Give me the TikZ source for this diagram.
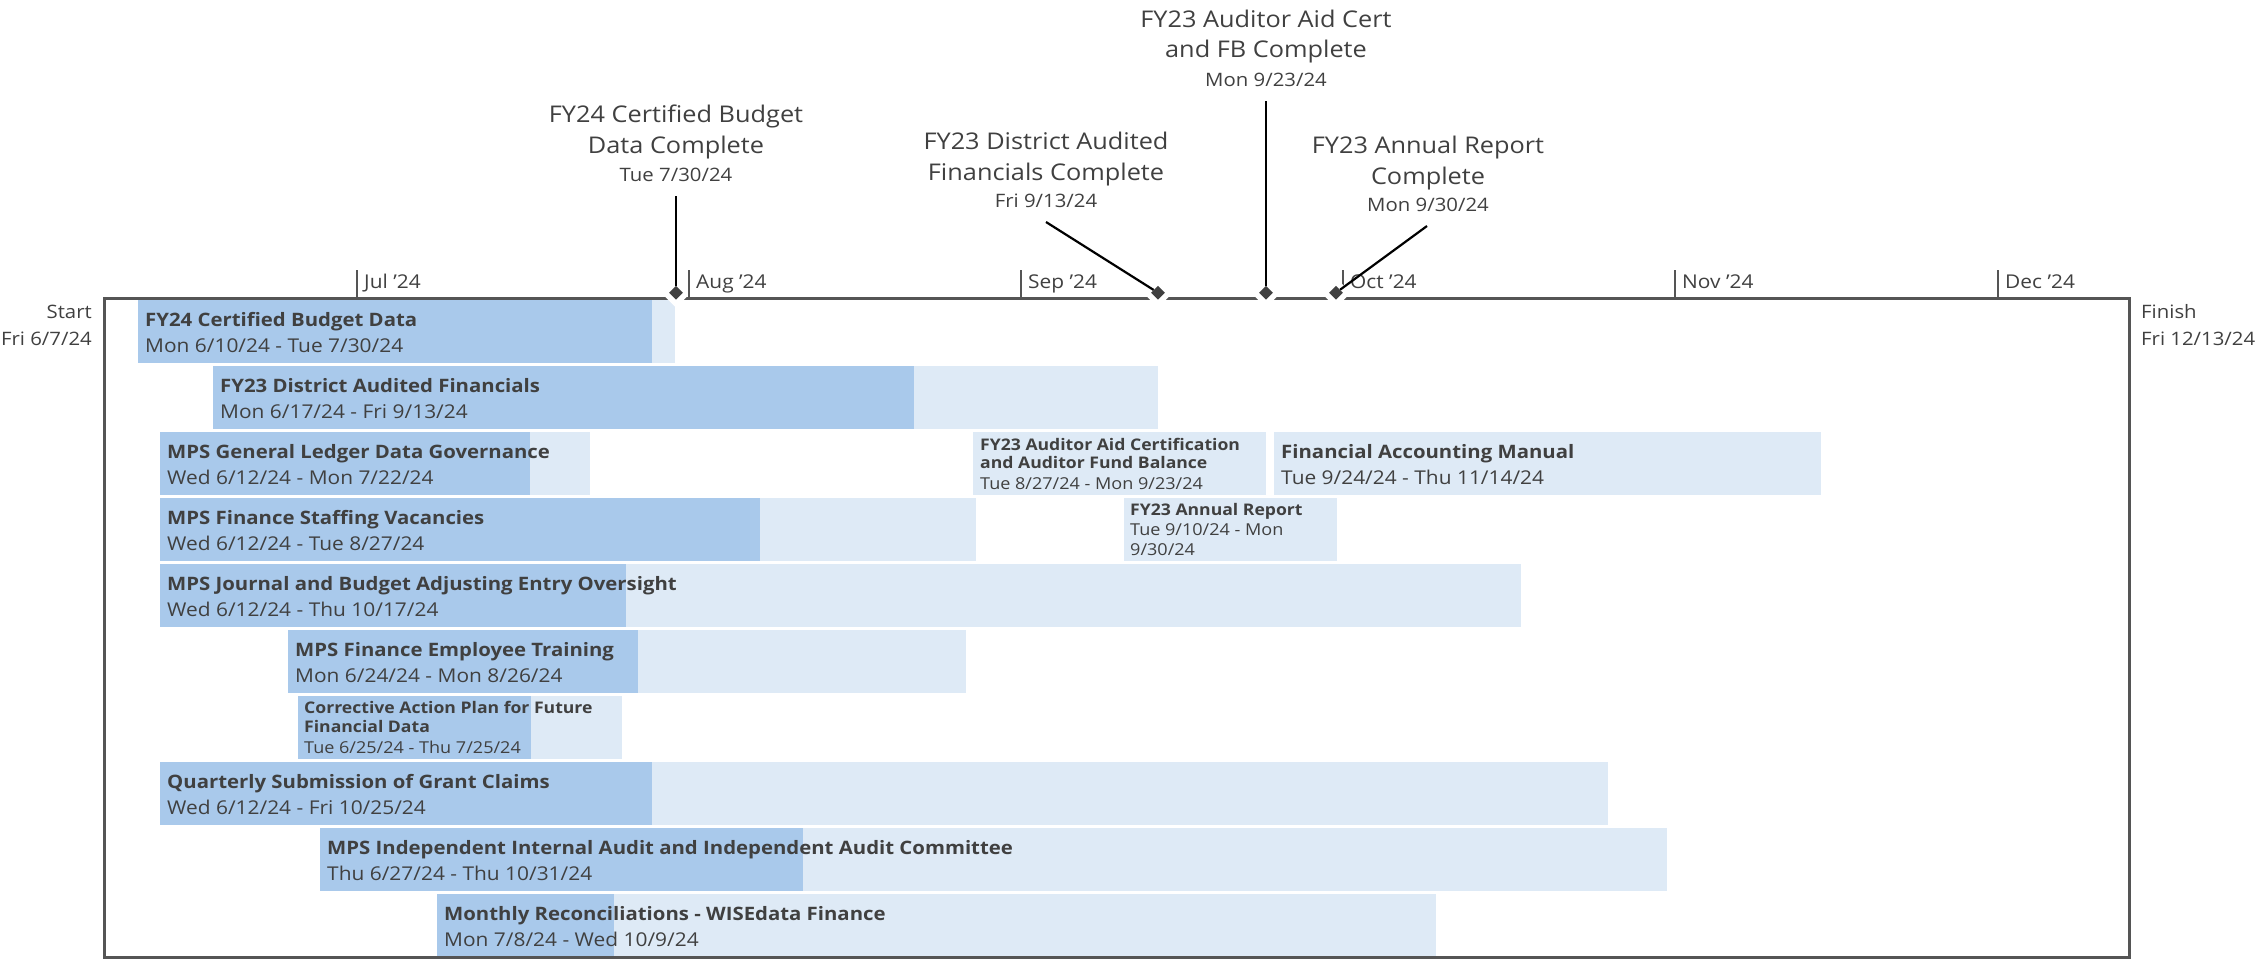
\documentclass[tikz,border=0pt]{standalone}
\usepackage{fontspec}
\setmainfont{Open Sans}[FakeStretch=1.1]
\usetikzlibrary{shapes.geometric}
\definecolor{bardark}{HTML}{A9C9EB}
\definecolor{barlight}{HTML}{DEEAF6}
\definecolor{txt}{HTML}{404040}
\definecolor{framec}{HTML}{555555}
\begin{document}
\begin{tikzpicture}[x=1pt,y=-1pt,
  tasktitle/.style={font=\fontsize{18.5}{22}\selectfont\bfseries, text=txt, inner sep=0pt, anchor=base west},
  taskdate/.style={font=\fontsize{19}{22}\selectfont, text=txt, inner sep=0pt, anchor=base west},
  smalltitle/.style={font=\fontsize{16}{18}\selectfont\bfseries, text=txt, inner sep=0pt, anchor=base west},
  smalldate/.style={font=\fontsize{16.4}{18}\selectfont, text=txt, inner sep=0pt, anchor=base west},
  mstitle/.style={font=\fontsize{23}{26}\selectfont, text=txt, inner sep=0pt, anchor=base},
  msdate/.style={font=\fontsize{18.5}{20}\selectfont, text=txt, inner sep=0pt, anchor=base},
  axislbl/.style={font=\fontsize{19}{20}\selectfont, text=txt, inner sep=0pt, anchor=base west},
  sidelbl/.style={font=\fontsize{18.5}{20}\selectfont, text=txt, inner sep=0pt},
  msdiamond/.style={diamond, fill=txt, inner sep=0pt, minimum width=14pt, minimum height=14pt},
  halo/.style={diamond, fill=white, inner sep=0pt, minimum width=30pt, minimum height=30pt},
  leader/.style={draw=black, line width=2.2pt},
  tickline/.style={draw=framec, line width=2.4pt},
  frameline/.style={draw=framec, line width=3pt}
]
\useasboundingbox (0,0) rectangle (2259,959);

% ---------- bars ----------
% row 0
\fill[barlight] (138,300) rectangle (675,363);
\fill[bardark]  (138,300) rectangle (652,363);
% row 1
\fill[barlight] (213,366) rectangle (1158,429);
\fill[bardark]  (213,366) rectangle (914,429);
% row 2
\fill[barlight] (160,432) rectangle (590,495);
\fill[bardark]  (160,432) rectangle (530,495);
\fill[barlight] (973,432) rectangle (1266,495);
\fill[barlight] (1274,432) rectangle (1821,495);
% row 3
\fill[barlight] (160,498) rectangle (976,561);
\fill[bardark]  (160,498) rectangle (760,561);
\fill[barlight] (1124,498) rectangle (1337,561);
% row 4
\fill[barlight] (160,564) rectangle (1521,627);
\fill[bardark]  (160,564) rectangle (626,627);
% row 5
\fill[barlight] (288,630) rectangle (966,693);
\fill[bardark]  (288,630) rectangle (638,693);
% row 6
\fill[barlight] (298,696) rectangle (622,759);
\fill[bardark]  (298,696) rectangle (531,759);
% row 7
\fill[barlight] (160,762) rectangle (1608,825);
\fill[bardark]  (160,762) rectangle (652,825);
% row 8
\fill[barlight] (320,828) rectangle (1667,891);
\fill[bardark]  (320,828) rectangle (803,891);
% row 9
\fill[barlight] (437,894) rectangle (1436,957);
\fill[bardark]  (437,894) rectangle (614,957);

% ---------- task texts ----------
\node[tasktitle] (t0) at (145,326.5) {FY24 Certified Budget Data};
\node[taskdate]  (d0) at (145,352.5) {Mon 6/10/24 - Tue 7/30/24};
\node[tasktitle] (t1) at (220,392.5) {FY23 District Audited Financials};
\node[taskdate]  (d1) at (220,418.5) {Mon 6/17/24 - Fri 9/13/24};
\node[tasktitle] (t2a) at (167,458.5) {MPS General Ledger Data Governance};
\node[taskdate]  (d2a) at (167,484.5) {Wed 6/12/24 - Mon 7/22/24};
\node[smalltitle] (t2b1) at (980,450) {FY23 Auditor Aid Certification};
\node[smalltitle] (t2b2) at (980,468.5) {and Auditor Fund Balance};
\node[smalldate]  (d2b) at (980,489) {Tue 8/27/24 - Mon 9/23/24};
\node[tasktitle] (t2c) at (1281,458.5) {Financial Accounting Manual};
\node[taskdate]  (d2c) at (1281,484.5) {Tue 9/24/24 - Thu 11/14/24};
\node[tasktitle] (t3a) at (167,524.5) {MPS Finance Staffing Vacancies};
\node[taskdate]  (d3a) at (167,550.5) {Wed 6/12/24 - Tue 8/27/24};
\node[smalltitle] (t3b) at (1130,515) {FY23 Annual Report};
\node[smalldate]  (d3b1) at (1130,535.5) {Tue 9/10/24 - Mon};
\node[smalldate]  (d3b2) at (1130,555) {9/30/24};
\node[tasktitle] (t4) at (167,590.5) {MPS Journal and Budget Adjusting Entry Oversight};
\node[taskdate]  (d4) at (167,616.5) {Wed 6/12/24 - Thu 10/17/24};
\node[tasktitle] (t5) at (295,656.5) {MPS Finance Employee Training};
\node[taskdate]  (d5) at (295,682.5) {Mon 6/24/24 - Mon 8/26/24};
\node[smalltitle] (t6a) at (304,713.5) {Corrective Action Plan for Future};
\node[smalltitle] (t6b) at (304,732.5) {Financial Data};
\node[smalldate]  (d6) at (304,753.3) {Tue 6/25/24 - Thu 7/25/24};
\node[tasktitle] (t7) at (167,788.5) {Quarterly Submission of Grant Claims};
\node[taskdate]  (d7) at (167,814.5) {Wed 6/12/24 - Fri 10/25/24};
\node[tasktitle] (t8) at (327,854.5) {MPS Independent Internal Audit and Independent Audit Committee};
\node[taskdate]  (d8) at (327,880.5) {Thu 6/27/24 - Thu 10/31/24};
\node[tasktitle] (t9) at (444,920.5) {Monthly Reconciliations - WISEdata Finance};
\node[taskdate]  (d9) at (444,946.5) {Mon 7/8/24 - Wed 10/9/24};

% ---------- frame and axis ----------
\draw[frameline] (104,298) rectangle (2129,957);
\draw[tickline] (357,270) -- (357,298);
\draw[tickline] (1021,270) -- (1021,298);
\draw[tickline] (1343,270) -- (1343,298);
\draw[tickline] (1675,270) -- (1675,298);
\draw[tickline] (1998,270) -- (1998,298);
\node[axislbl] (mjul) at (364,288) {Jul '24};
\node[axislbl] (maug) at (696,288) {Aug '24};
\node[axislbl] (msep) at (1028,288) {Sep '24};
\node[axislbl] (moct) at (1350,288) {Oct '24};
\node[axislbl] (mnov) at (1682,288) {Nov '24};
\node[axislbl] (mdec) at (2005,288) {Dec '24};

\node[sidelbl, anchor=base east] (st1) at (92,318) {Start};
\node[sidelbl, anchor=base east] (st2) at (92,345) {Fri 6/7/24};
\node[sidelbl, anchor=base west] (fi1) at (2141,318) {Finish};
\node[sidelbl, anchor=base west] (fi2) at (2141,345) {Fri 12/13/24};

% ---------- milestones ----------
\node[halo] (h1) at (676,292.7) {};
\node[halo] (h2) at (1158,292.7) {};
\node[halo] (h3) at (1266,292.7) {};
\node[halo] (h4) at (1336,292.7) {};
\draw[tickline] (689,270) -- (689,297);

\node[mstitle] (m1a) at (676,122) {FY24 Certified Budget};
\node[mstitle] (m1b) at (676,153) {Data Complete};
\node[msdate]  (m1c) at (676,181.5) {Tue 7/30/24};
\node[mstitle] (m2a) at (1046,149) {FY23 District Audited};
\node[mstitle] (m2b) at (1046,180) {Financials Complete};
\node[msdate]  (m2c) at (1046,207.5) {Fri 9/13/24};
\node[mstitle] (m3a) at (1266,27) {FY23 Auditor Aid Cert};
\node[mstitle] (m3b) at (1266,57.5) {and FB Complete};
\node[msdate]  (m3c) at (1266,86) {Mon 9/23/24};
\node[mstitle] (m4a) at (1428,153) {FY23 Annual Report};
\node[mstitle] (m4b) at (1428,184.5) {Complete};
\node[msdate]  (m4c) at (1428,211.5) {Mon 9/30/24};

\coordinate (l1) at (676,196);
\coordinate (l2) at (1046,222);
\coordinate (l3) at (1266,101);
\coordinate (l4) at (1427,226);

\node[msdiamond] (dm1) at (676,292.7) {};
\node[msdiamond] (dm2) at (1158,292.7) {};
\node[msdiamond] (dm3) at (1266,292.7) {};
\node[msdiamond] (dm4) at (1336,292.7) {};

\draw[leader] (l1) -- (dm1);
\draw[leader] (l2) -- (dm2);
\draw[leader] (l3) -- (dm3);
\draw[leader] (l4) -- (dm4);
\end{tikzpicture}
\end{document}
